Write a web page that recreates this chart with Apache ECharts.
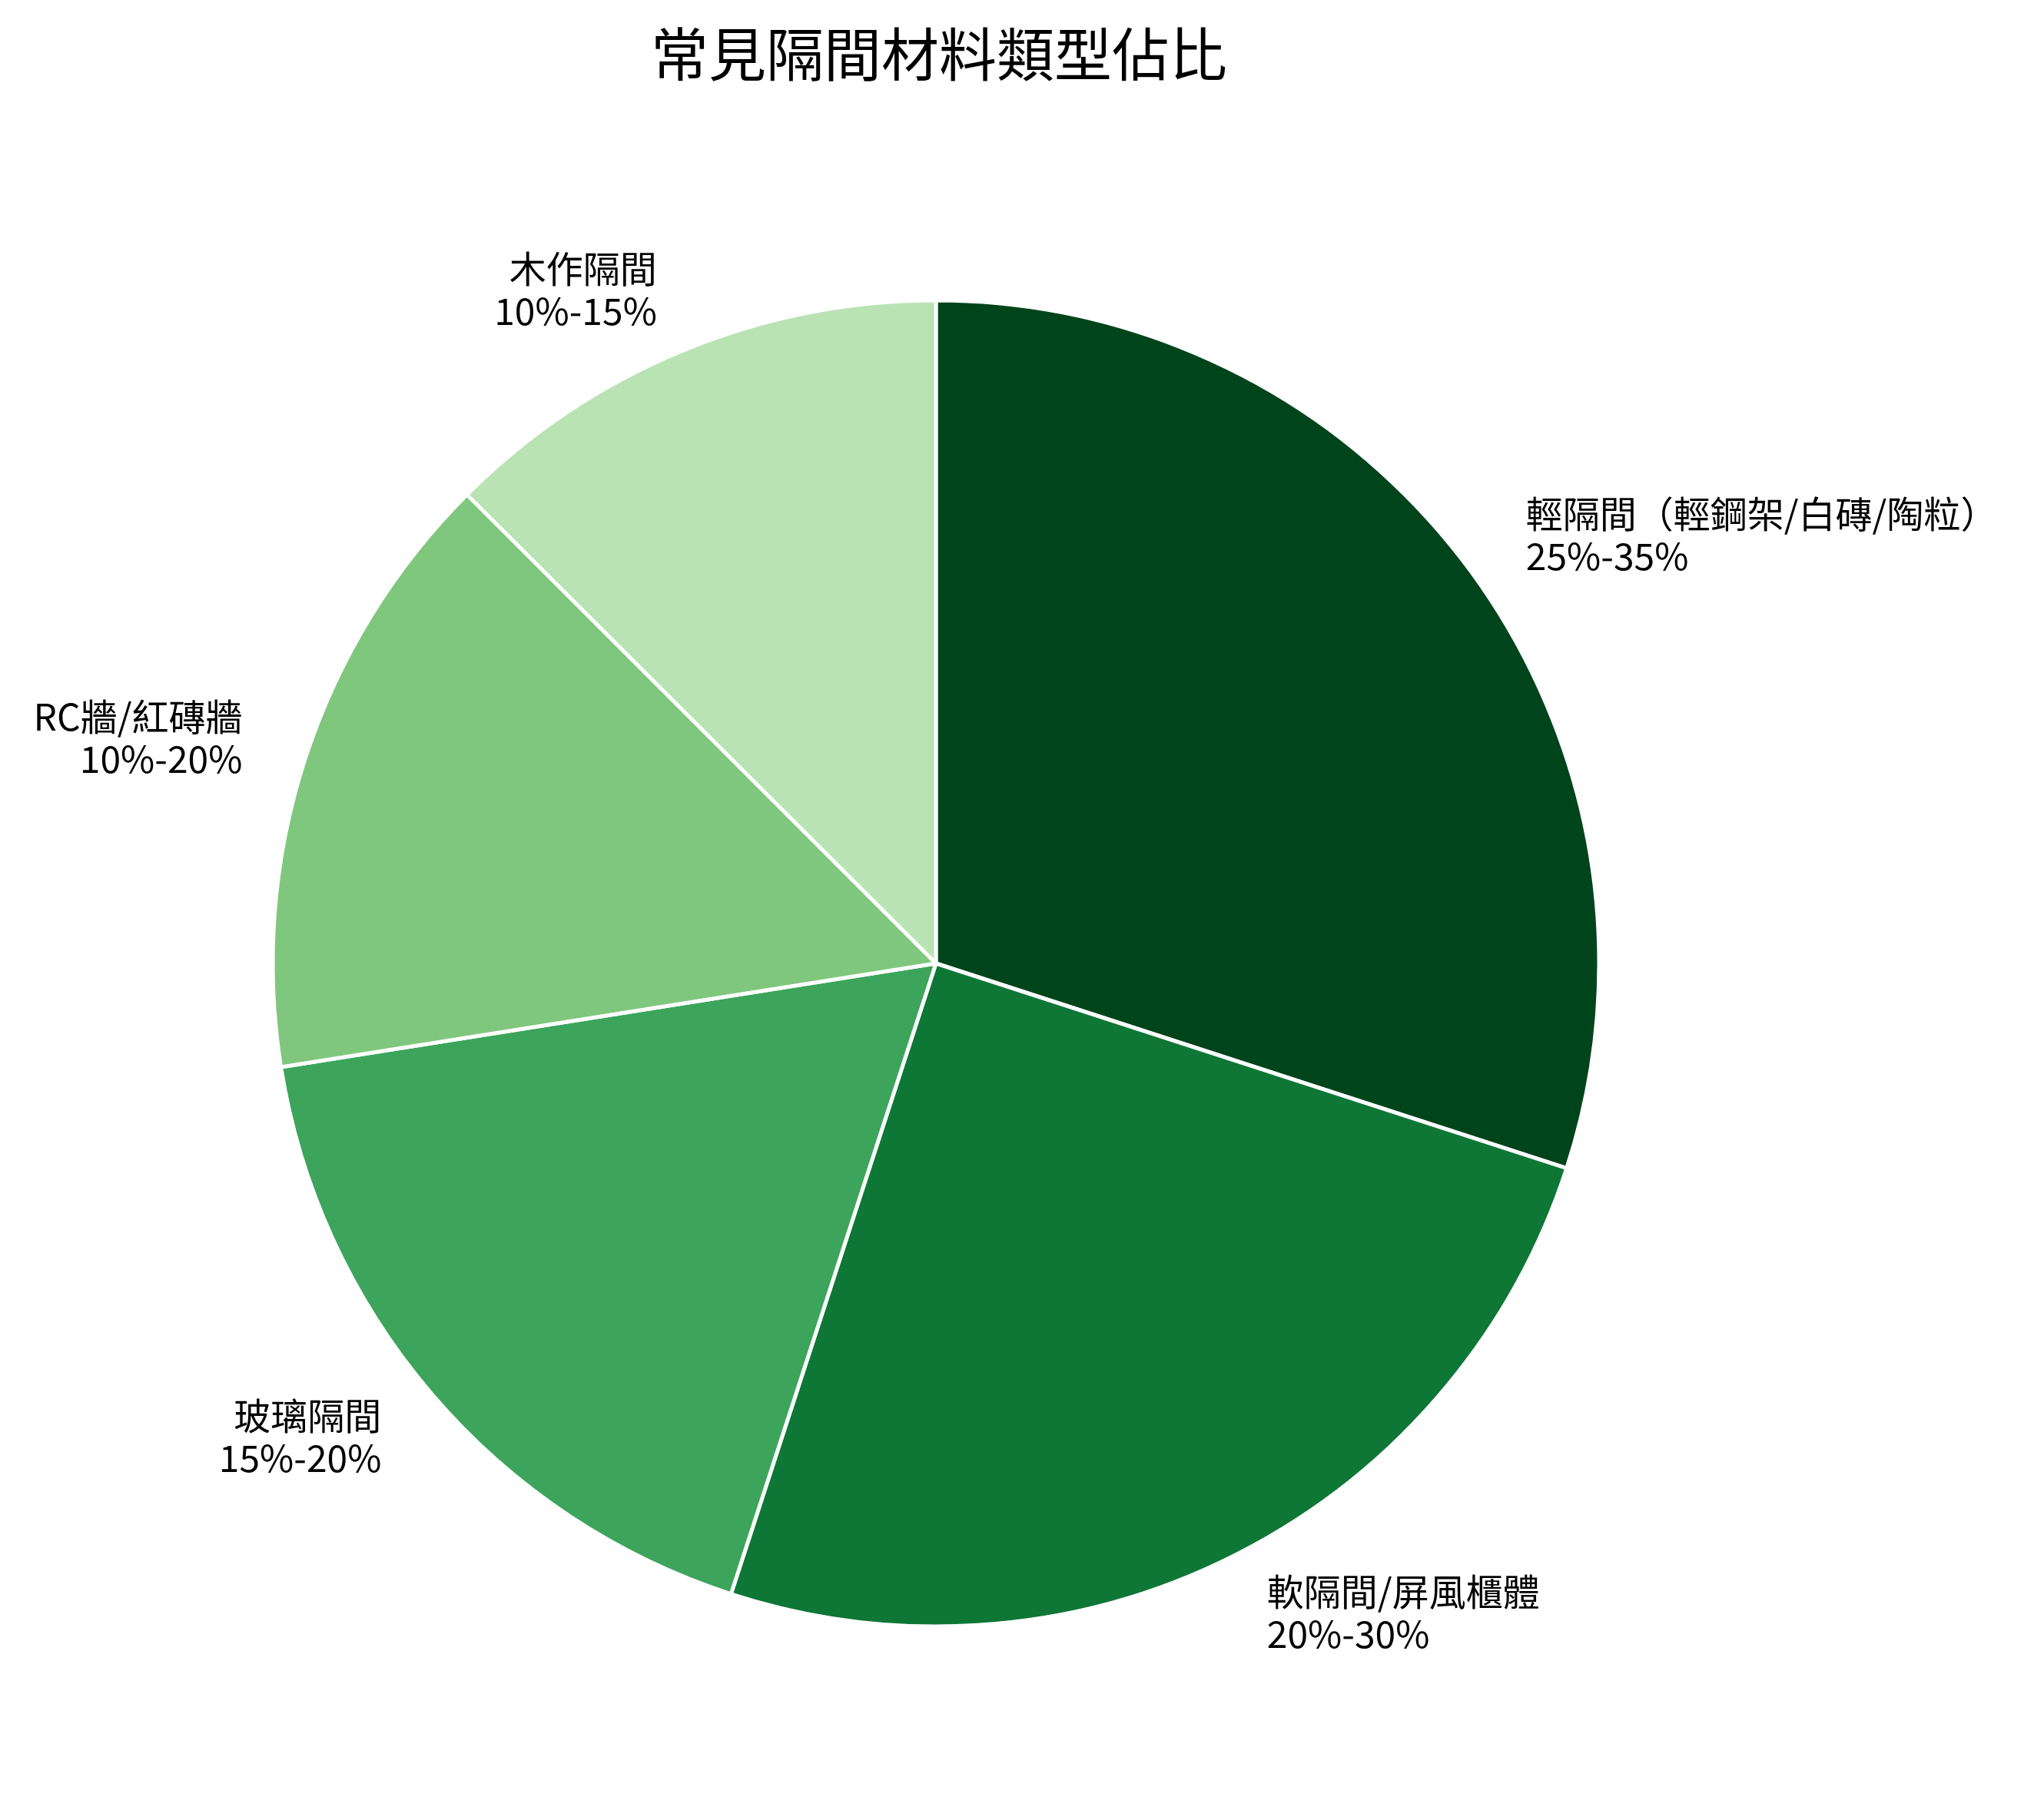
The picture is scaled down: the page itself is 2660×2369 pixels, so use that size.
<!DOCTYPE html>
<html>
<head>
<meta charset="utf-8">
<title>常見隔間材料類型佔比</title>
<script src="https://cdn.jsdelivr.net/npm/echarts@6/dist/echarts.min.js"></script>
<style>
    html, body { margin: 0; padding: 0; background: #fff; }
    #main { width: 2660px; height: 2369px; }
</style>
</head>
<body>
<div id="main"></div>
<script>
// 類別名稱
var categories = ['輕隔間（輕鋼架/白磚/陶粒）', '軟隔間/屏風櫃體', '玻璃隔間', 'RC牆/紅磚牆', '木作隔間']
// 標籤上的範圍文字
var rangeLabels = ['25%-35%', '20%-30%', '15%-20%', '10%-20%', '10%-15%']
// 扇區大小（從圖上量出來的角度換算）
var shares = [30, 25, 17.5, 15, 12.5]

var chart = echarts.init(document.getElementById('main'))

var pieData = []
for (var i = 0; i < categories.length; i++) {
    pieData.push({ name: categories[i], value: shares[i] })
}

var option = {
    backgroundColor: '#ffffff',
    animation: false,
    title: {
        text: '常見隔間材料類型佔比',
        left: 842, // 標題對齊圓心而不是畫布中心
        top: 28,
        textStyle: {
            fontFamily: 'Noto Sans CJK TC',
            fontSize: 75,
            fontWeight: 'normal',
            color: '#000'
        }
    },
    color: ['#00441b', '#0e7735', '#3ca55b', '#80c77e', '#b9e3b3'],
    series: [{
        type: 'pie',
        center: [1218, 1254],
        radius: 863,
        startAngle: 90,
        clockwise: true,
        avoidLabelOverlap: false,
        data: pieData,
        itemStyle: {
            borderColor: '#ffffff',
            borderWidth: 5
        },
        label: {
            show: true,
            position: 'outside',
            distanceToLabelLine: 0,
            overflow: 'none',
            fontFamily: 'Noto Sans CJK TC',
            fontSize: 48,
            lineHeight: 55,
            color: '#000',
            formatter: function (p) {
                return p.name + '\n' + rangeLabels[p.dataIndex]
            }
        },
        labelLine: {
            show: false,
            length: 86, // 約半徑的 0.1
            length2: 0
        },
        emphasis: { disabled: true }
    }]
}

chart.setOption(option)
</script>
</body>
</html>
